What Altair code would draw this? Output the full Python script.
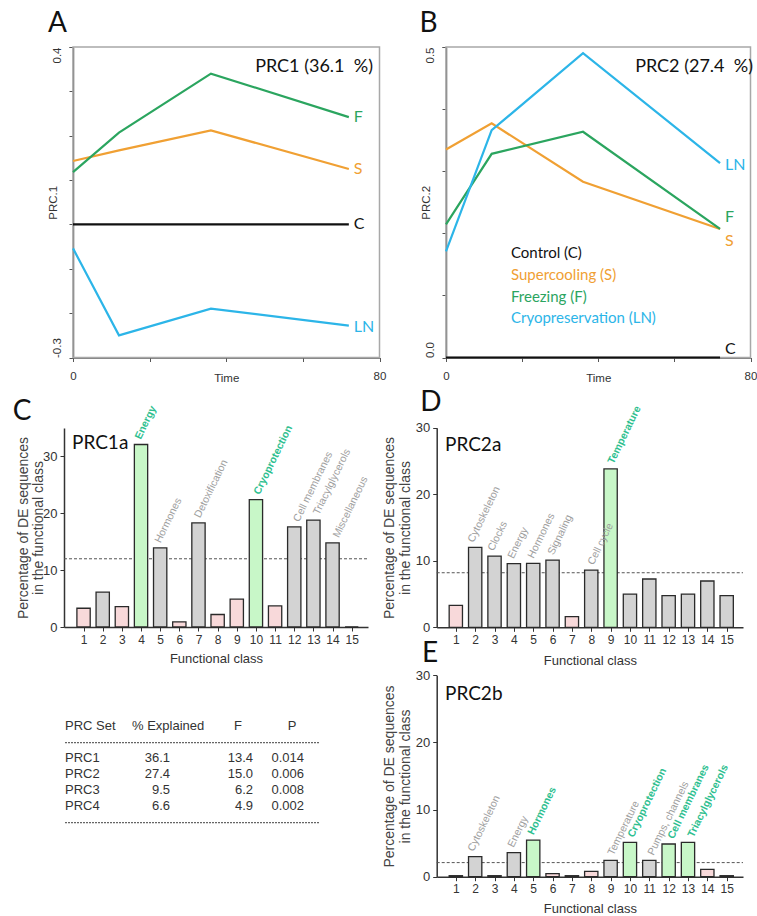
import altair as alt
import pandas as pd

W, H = 757, 916
SANS = "Liberation Sans"
CAL = "Lato"

# ---------------- data: PRC curves (panels A, B) ----------------
times = [0, 12, 36, 72]
series_order = ["C", "S", "F", "LN"]
series_colors = ["#111111", "#F0A033", "#2BA55F", "#2CB5E8"]
legend_names = ["Control (C)", "Supercooling (S)", "Freezing (F)", "Cryopreservation (LN)"]

prc1_control = [0.0, 0.0, 0.0, 0.0]
prc1_supercooling = [0.143, 0.167, 0.212, 0.125]
prc1_freezing = [0.118, 0.207, 0.340, 0.242]
prc1_cryo = [-0.054, -0.250, -0.190, -0.228]

prc2_control = [0.0, 0.0, 0.0, 0.0]
prc2_supercooling = [0.335, 0.377, 0.283, 0.207]
prc2_freezing = [0.2145, 0.328, 0.3635, 0.207]
prc2_cryo = [0.171, 0.366, 0.490, 0.313]

# ---------------- data: functional classes (panels C, D, E) ----------------
classes = list(range(1, 16))

prc1a_pct = [3.3, 6.15, 3.6, 32.1, 13.9, 0.9, 18.3, 2.2, 4.9, 22.4, 3.7, 17.6, 18.8, 14.8, 0.0]
prc1a_kind = ["low", "mid", "low", "high", "mid", "low", "mid", "low", "low", "high", "low", "mid", "mid", "mid", "low"]
prc1a_labels = {4: "Energy", 5: "Hormones", 7: "Detoxification", 10: "Cryoprotection",
                12: "Cell membranes", 13: "Triacylglycerols", 14: "Miscellaneous"}
prc1a_highlight = [4, 10]
prc1a_threshold = 12.0

prc2a_pct = [3.3, 12.0, 10.7, 9.56, 9.6, 10.1, 1.6, 8.6, 23.8, 5.0, 7.26, 4.76, 5.0, 6.96, 4.76]
prc2a_kind = ["low", "mid", "mid", "mid", "mid", "mid", "low", "mid", "high", "mid", "mid", "mid", "mid", "mid", "mid"]
prc2a_labels = {2: "Cytoskeleton", 3: "Clocks", 4: "Energy", 5: "Hormones", 6: "Signaling",
                8: "Cell cycle", 9: "Temperature"}
prc2a_highlight = [9]
prc2a_threshold = 8.2

prc2b_pct = [0.15, 3.0, 0.15, 3.6, 5.46, 0.45, 0.15, 0.8, 2.43, 5.1, 2.43, 4.87, 5.1, 1.1, 0.15]
prc2b_kind = ["low", "mid", "low", "mid", "high", "low", "low", "low", "mid", "high", "mid", "high", "high", "low", "low"]
prc2b_labels = {2: "Cytoskeleton", 4: "Energy", 5: "Hormones", 9: "Temperature", 10: "Cryoprotection",
                11: "Pumps, channels", 12: "Cell membranes", 13: "Triacylglycerols"}
prc2b_highlight = [5, 10, 12, 13]
prc2b_threshold = 2.1

# ---------------- data: table ----------------
table_header = ["PRC Set", "% Explained", "F", "P"]
prc_set = ["PRC1", "PRC2", "PRC3", "PRC4"]
pct_explained = ["36.1", "27.4", "9.5", "6.6"]
f_values = ["13.4", "15.0", "6.2", "4.9"]
p_values = ["0.014", "0.006", "0.008", "0.002"]

ONE = pd.DataFrame({"k": [0]})
color_map = dict(zip(series_order, series_colors))
NBSP = "\u00a0"


def note(text, x, y, size, color="#111111", font=CAL, align="left", weight="normal", baseline="middle"):
    return alt.Chart(ONE).mark_text(text=text, fontSize=size, color=color, font=font, align=align,
                                    baseline=baseline, fontWeight=weight).encode(
        x=alt.value(x), y=alt.value(y))


LINE_AX = dict(grid=False, domainColor="#555", domainWidth=1.5, tickColor="#555", tickSize=4,
               labelFont=SANS, labelFontSize=11.5, labelColor="#333", labelFlush=False,
               labelOverlap=False, titleFont=SANS, titleFontSize=11.5, titleFontWeight="normal",
               titleColor="#333")


def line_panel(curves, ydom, yvals, xr, yr, ytitle, label_dy):
    rows = []
    for s in series_order:
        for t, v in zip(times, curves[s]):
            rows.append({"time": t, "value": v, "series": s})
    df = pd.DataFrame(rows)
    lo, hi = ydom

    def xs():
        return alt.Scale(domain=[0, 80], range=xr, nice=False, zero=False)

    def ys():
        return alt.Scale(domain=ydom, range=yr, nice=False, zero=False)

    lines = alt.Chart(df).mark_line(strokeWidth=2.2).encode(
        x=alt.X("time:Q", scale=xs(), axis=alt.Axis(
            orient="bottom", offset=yr[0] - H, values=[0, 20, 40, 60, 80],
            labelExpr="datum.value == 0 ? '0' : (datum.value == 80 ? '80' : '')",
            title="Time", titleY=21, titleBaseline="middle", labelPadding=9, **LINE_AX)),
        y=alt.Y("value:Q", scale=ys(), axis=alt.Axis(
            orient="left", offset=-xr[0], values=yvals,
            labelExpr=f"datum.value == {lo} ? '{lo:.1f}' : ''",
            labelAngle=270, labelAlign="left", labelBaseline="bottom", labelPadding=7,
            title=ytitle, titleX=-15, titleY=(yr[0] + yr[1]) / 2, titleAngle=270,
            titleAlign="center", titleBaseline="bottom", **LINE_AX)),
        color=alt.Color("series:N", scale=alt.Scale(domain=series_order, range=series_colors), legend=None),
        order=alt.Order("time:Q"),
    )
    box = alt.Chart(pd.DataFrame({"x0": [0], "x1": [80], "y0": [lo], "y1": [hi]})).mark_rect(
        fillOpacity=0, stroke="#a8a8a8", strokeWidth=1.5).encode(
        x=alt.X("x0:Q", scale=xs(), axis=None), x2="x1:Q",
        y=alt.Y("y0:Q", scale=ys(), axis=alt.Axis(
            orient="left", offset=-xr[0], values=[hi], labelExpr=f"'{hi:.1f}'",
            labelAngle=270, labelAlign="right", labelBaseline="bottom", labelPadding=7,
            title=None, domain=False, **LINE_AX)),
        y2="y1:Q")
    units = [box, lines]
    for s in series_order:
        lab = pd.DataFrame({"time": [times[-1]], "value": [curves[s][-1]], "lab": [s]})
        units.append(alt.Chart(lab).mark_text(
            align="left", baseline="middle", dx=5, dy=label_dy[s], font=CAL, fontSize=16,
            color=color_map[s]).encode(
            x=alt.X("time:Q", scale=xs(), axis=None),
            y=alt.Y("value:Q", scale=ys(), axis=None),
            text="lab:N"))
    return units


def bar_panel(pct, kinds, labels, highlight, thr, xr, xdom, yr, ydom, yvals, ytitle_x, xtitle_y):
    df = pd.DataFrame({"cls": classes, "pct": pct, "kind": kinds})

    def xs():
        return alt.Scale(domain=xdom, range=xr, nice=False, zero=False)

    def ys():
        return alt.Scale(domain=ydom, range=yr, nice=False, zero=False)

    bars = alt.Chart(df).mark_bar(orient="vertical", size=13.3, stroke="#2a2a2a", strokeWidth=1.3).encode(
        x=alt.X("cls:Q", scale=xs(), axis=alt.Axis(
            orient="bottom", offset=yr[0] - H, values=classes, format="d",
            tickSize=4, labelPadding=3, labelFont=SANS, labelFontSize=12, labelColor="#333",
            labelFlush=False, labelOverlap=False, grid=False,
            title="Functional class", titleY=xtitle_y, titleBaseline="middle", titleFont=SANS,
            titleFontSize=13, titleFontWeight="normal", titleColor="#333",
            domainColor="#333", domainWidth=1.5, tickColor="#333")),
        y=alt.Y("pct:Q", scale=ys(), stack=None, axis=alt.Axis(
            orient="left", offset=-xr[0], values=yvals, format="d",
            tickSize=4, labelPadding=3, labelFont=SANS, labelFontSize=13, labelColor="#333",
            labelOverlap=False, labelFlush=False, grid=False,
            title=["Percentage of DE sequences", "in the functional class"],
            titleX=ytitle_x, titleY=(yr[0] + yr[1]) / 2, titleAngle=270, titleAlign="center",
            titleBaseline="bottom", titleLineHeight=15.5, titleFont=SANS, titleFontSize=14,
            titleFontWeight="normal", titleColor="#444",
            domainColor="#333", domainWidth=1.5, tickColor="#333")),
        color=alt.Color("kind:N", scale=alt.Scale(domain=["low", "mid", "high"],
                                                   range=["#F8D9DA", "#D3D3D3", "#C8F7C8"]), legend=None),
    )
    rule = alt.Chart(pd.DataFrame({"x0": [xdom[0]], "x1": [xdom[1]], "thr": [thr]})).mark_rule(
        strokeDash=[3, 2], color="#555", strokeWidth=1).encode(
        x=alt.X("x0:Q", scale=xs(), axis=None), x2="x1:Q",
        y=alt.Y("thr:Q", scale=ys(), axis=None))
    lab_rows = [{"cls": c, "pct": pct[c - 1], "lab": t, "hl": c in highlight} for c, t in labels.items()]
    ldf = pd.DataFrame(lab_rows)
    gray = alt.Chart(ldf[~ldf["hl"]]).mark_text(
        angle=296, align="left", baseline="middle", dx=5, dy=-3, font=SANS, fontSize=10.5,
        color="#9e9e9e").encode(
        x=alt.X("cls:Q", scale=xs(), axis=None), y=alt.Y("pct:Q", scale=ys(), axis=None), text="lab:N")
    green = alt.Chart(ldf[ldf["hl"]]).mark_text(
        angle=296, align="left", baseline="middle", dx=5, dy=-3, font=SANS, fontSize=10.5,
        fontWeight="bold", color="#2FBF90").encode(
        x=alt.X("cls:Q", scale=xs(), axis=None), y=alt.Y("pct:Q", scale=ys(), axis=None), text="lab:N")
    return [rule, bars, gray, green]


units = []
units += line_panel(
    {"C": prc1_control, "S": prc1_supercooling, "F": prc1_freezing, "LN": prc1_cryo},
    [-0.3, 0.4], [-0.3, -0.2, -0.1, 0.0, 0.1, 0.2, 0.3, 0.4],
    [73, 379.5], [357.5, 47], "PRC.1",
    {"C": 0, "S": 0, "F": 0, "LN": 1})
units += line_panel(
    {"C": prc2_control, "S": prc2_supercooling, "F": prc2_freezing, "LN": prc2_cryo},
    [0.0, 0.5], [0.0, 0.1, 0.2, 0.3, 0.4, 0.5],
    [446, 750.5], [357.5, 47], "PRC.2",
    {"C": -9, "S": 12, "F": -12, "LN": 2})
units += bar_panel(prc1a_pct, prc1a_kind, prc1a_labels, prc1a_highlight, prc1a_threshold,
                   [64, 368], [0.24, 15.59], [627, 428], [0, 35], [0, 10, 20, 30], -34, 31)
units += bar_panel(prc2a_pct, prc2a_kind, prc2a_labels, prc2a_highlight, prc2a_threshold,
                   [436.7, 743], [0.27, 15.585], [627.3, 427.7], [0, 30], [0, 10, 20, 30], -40, 33)
units += bar_panel(prc2b_pct, prc2b_kind, prc2b_labels, prc2b_highlight, prc2b_threshold,
                   [436.7, 743], [0.27, 15.585], [876.7, 675.3], [0, 30], [0, 10, 20, 30], -40, 32)

# ---------------- table ----------------
tab = pd.DataFrame({"row": list(range(len(prc_set))), "set": prc_set, "pct": pct_explained,
                    "F": f_values, "P": p_values})


def tab_col(field, x, align):
    return alt.Chart(tab).mark_text(align=align, baseline="middle", font=SANS, fontSize=13,
                                    color="#333").encode(
        x=alt.value(x),
        y=alt.Y("row:Q", scale=alt.Scale(domain=[0, len(prc_set) - 1], range=[757.7, 805.7],
                                         nice=False, zero=False), axis=None),
        text=f"{field}:N")


units += [
    tab_col("set", 65, "left"),
    tab_col("pct", 170, "right"),
    tab_col("F", 253, "right"),
    tab_col("P", 304, "right"),
    alt.Chart(ONE).mark_rule(strokeDash=[2, 1], color="#666", strokeWidth=1.2).encode(
        x=alt.value(65), x2=alt.value(320), y=alt.value(742.7)),
    alt.Chart(ONE).mark_rule(strokeDash=[2, 1], color="#666", strokeWidth=1.2).encode(
        x=alt.value(65), x2=alt.value(320), y=alt.value(822.7)),
]

header_x = [65, 132, 238, 292]
header_align = ["left", "left", "center", "center"]
units += [note(t, x, 725.7, 13, color="#333", font=SANS, align=a)
          for t, x, a in zip(table_header, header_x, header_align)]

# panel letters and inner titles
units += [
    note("A", 57.5, 24, 28, align="center"),
    note("B", 428.5, 24, 28, align="center"),
    note("C", 22, 412, 28, align="center"),
    note("D", 431, 403, 28, align="center"),
    note("E", 430, 654, 28, align="center"),
    note("PRC1 (36.1" + NBSP + " %)", 373, 67, 18, align="right"),
    note("PRC2 (27.4" + NBSP + " %)", 753, 67, 18, align="right"),
    note("PRC1a", 72, 443, 19),
    note("PRC2a", 445, 445, 19),
    note("PRC2b", 445, 694, 19),
]
for i, (name, col) in enumerate(zip(legend_names, series_colors)):
    units.append(note(name, 511, 253 + i * 21.8, 15, color=col))

chart = alt.layer(*units).resolve_scale(
    x="independent", y="independent", color="independent"
).properties(
    width=W, height=H, autosize=alt.AutoSizeParams(type="none"), padding=0, background="white"
).configure_view(stroke=None)

chart.save("out.html", embed_options={"renderer": "svg", "actions": False})
